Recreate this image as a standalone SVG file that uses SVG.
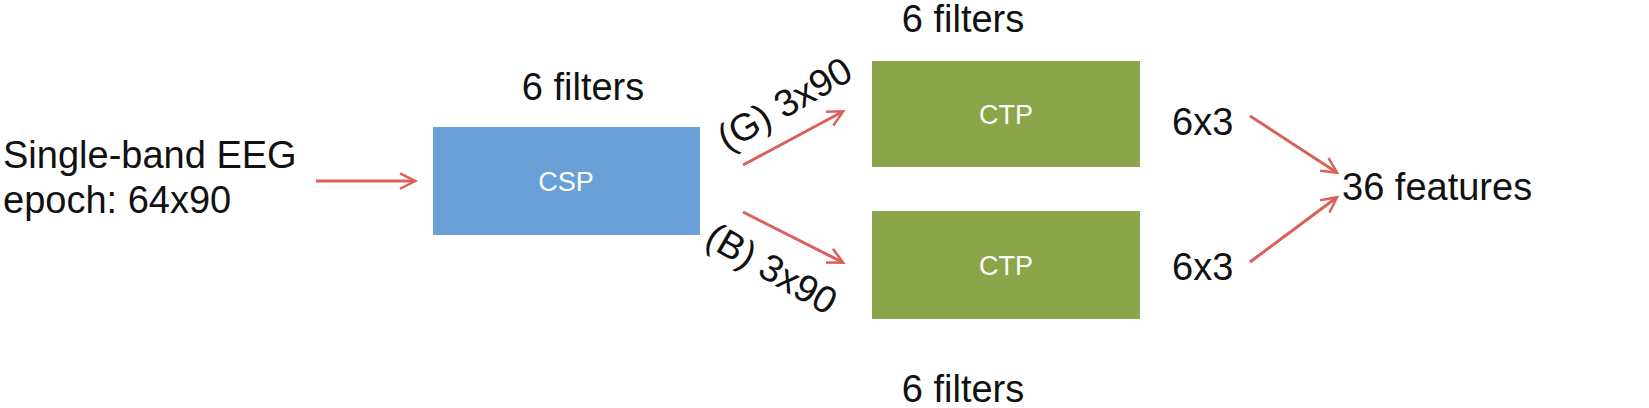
<svg xmlns="http://www.w3.org/2000/svg" width="1649" height="408" viewBox="0 0 1649 408">
<style>
text{font-family:"Liberation Sans",Arial,sans-serif;font-size:38px;fill:#111}
.w{fill:#fff;font-size:27px;text-anchor:middle}
.c{text-anchor:middle}
.a{stroke:#d9615a;stroke-width:3;fill:none;marker-end:url(#m)}
</style>
<defs><marker id="m" viewBox="0 0 10 10" refX="9" refY="5" markerWidth="7" markerHeight="7" orient="auto" markerUnits="userSpaceOnUse" style="overflow:visible"><path d="M0,0 L10,5 L0,10" fill="none" stroke="#d9615a" stroke-width="1.6" transform="scale(2.2) translate(-5,-2.7)"/></marker></defs>
<rect width="1649" height="408" fill="#fff"/>
<g id="input"><text x="3" y="168">Single-band EEG</text><text x="3" y="213">epoch: 64x90</text></g>
<g id="csp"><rect x="433" y="127" width="267" height="108" fill="#6aa0d8"/><text class="w" x="566" y="191">CSP</text><text class="c" x="583" y="100">6 filters</text></g>
<g id="ctp1"><rect x="872" y="61" width="268" height="106" fill="#8aa54a"/><text class="w" x="1006" y="124">CTP</text><text class="c" x="963" y="32">6 filters</text></g>
<g id="ctp2"><rect x="872" y="211" width="268" height="108" fill="#8aa54a"/><text class="w" x="1006" y="275">CTP</text><text class="c" x="963" y="402">6 filters</text></g>
<g id="out"><text x="1342" y="200">36 features</text></g>
<g id="connectors">
<line class="a" x1="316" y1="181" x2="414" y2="181"/>
<line class="a" x1="743" y1="165" x2="842" y2="112"/>
<line class="a" x1="743" y1="212" x2="842" y2="262"/>
<line class="a" x1="1250" y1="116" x2="1336" y2="172"/>
<line class="a" x1="1250" y1="262" x2="1336" y2="198"/>
<text x="1172" y="135">6x3</text>
<text x="1172" y="280">6x3</text>
<text transform="translate(727,152) rotate(-30)">(G) 3x90</text>
<text transform="translate(703,244) rotate(30)">(B) 3x90</text>
</g>
</svg>
